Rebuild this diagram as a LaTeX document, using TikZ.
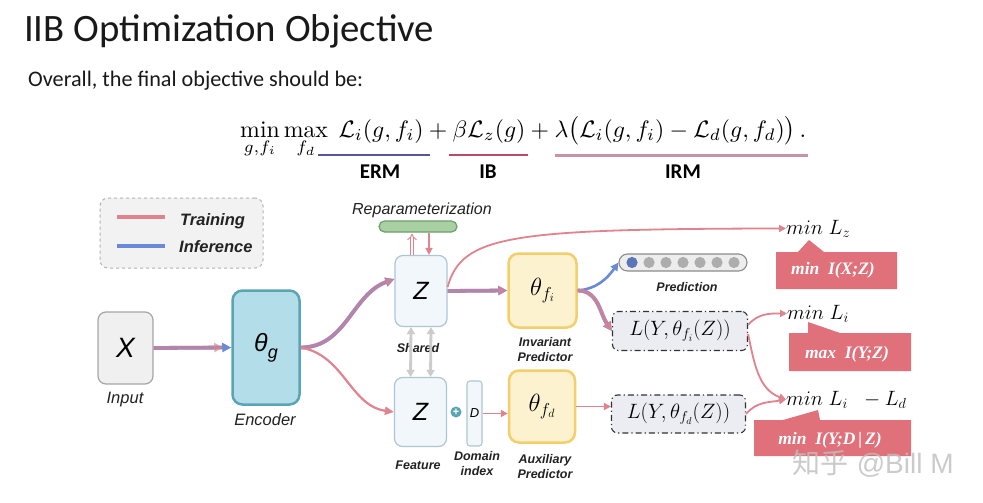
\documentclass[tikz,border=0pt]{standalone}
\usepackage{fontspec}
\usepackage{graphicx}
\usetikzlibrary{arrows.meta,calc}
\newfontfamily\calibri{Carlito}
\newfontfamily\arial{Liberation Sans}
\newfontfamily\tnr{Liberation Serif}
\newfontfamily\cjk{Noto Sans CJK SC}
\definecolor{trpink}{HTML}{E0838F}
\definecolor{infblue}{HTML}{6A8AD8}
\definecolor{ermc}{HTML}{56579A}
\definecolor{ibc}{HTML}{C04A66}
\definecolor{irmc}{HTML}{C892A8}
\definecolor{redbox}{HTML}{E0707A}
\definecolor{zfill}{HTML}{F2F7FB}
\definecolor{zdraw}{HTML}{AEC6D2}
\definecolor{encfill}{HTML}{B3DDE8}
\definecolor{encdraw}{HTML}{5AA5B5}
\definecolor{prfill}{HTML}{FDF2CF}
\definecolor{prdraw}{HTML}{F2CF6A}
\definecolor{repfill}{HTML}{A9D0A3}
\definecolor{repdraw}{HTML}{6B9F6B}
\definecolor{lfill}{HTML}{ECECF3}
\definecolor{txt}{HTML}{222222}
\begin{document}
\begin{tikzpicture}[x=1pt,y=1pt,
  box/.style={draw, inner sep=0pt, anchor=center},
  zbox/.style={box, draw=zdraw, fill=zfill, line width=1.2pt, rounded corners=8pt, minimum width=52pt, minimum height=71pt, font=\fontsize{25}{25}\arial\itshape},
  predbox/.style={box, draw=prdraw, fill=prfill, line width=2.5pt, rounded corners=10pt, minimum width=66pt, minimum height=72pt, font=\fontsize{26}{26}\selectfont},
  lossbox/.style={box, draw=black!80, fill=lfill, line width=1.1pt, dash pattern=on 6pt off 3pt on 1.2pt off 3pt, rounded corners=6pt, minimum width=134pt, minimum height=38pt, font=\fontsize{20}{20}\selectfont},
  lbl/.style={text=txt, font=\fontsize{16.5}{16.5}\arial\itshape, inner sep=0pt, anchor=center},
  slbl/.style={text=txt, font=\fontsize{12.5}{15}\arial\bfseries\itshape, inner sep=0pt, anchor=center, align=center},
  tip/.style={-{Triangle[length=9pt,width=9pt]}},
  stip/.style={-{Triangle[length=7pt,width=7pt]}},
  blueth/.style={draw=infblue, line width=3.8pt, tip},
  pinkth/.style={draw=trpink, line width=3.8pt, opacity=0.62, tip},
  pinkthin/.style={draw=trpink, line width=1.8pt, stip},
  mtxt/.style={inner sep=0pt, anchor=base west, font=\fontsize{20.5}{20.5}\selectfont},
  rtxt/.style={inner sep=0pt, text=white, font=\fontsize{17.5}{17.5}\tnr\bfseries\itshape},
  shared/.style={draw=black!20, line width=2.8pt, {Triangle[length=7pt,width=8pt]}-{Triangle[length=7pt,width=8pt]}}
]
\useasboundingbox (0,0) rectangle (983,-503);
\fill[white] (0,0) rectangle (983,-503);

% ---- heading ----
\node[anchor=base west, inner sep=0pt, text=black!90, font=\fontsize{38.8}{38.8}\calibri] (title) at (24,-42) {IIB Optimization Objective};
\node[anchor=base west, inner sep=0pt, text=black!90, font=\fontsize{22.2}{22.2}\calibri] (sub) at (28,-86) {Overall, the final objective should be:};
\node[anchor=base west, inner sep=0pt] (formula) at (240,-137) {\resizebox{566pt}{!}{$\displaystyle \min_{g,f_i}\max_{f_d}\;\mathcal{L}_i(g,f_i)+\beta\mathcal{L}_z(g)+\lambda\big(\mathcal{L}_i(g,f_i)-\mathcal{L}_d(g,f_d)\big)\,.$}};
\draw[ermc, line width=2.6pt] (318,-155) -- (430,-155);
\draw[ibc, line width=2.6pt] (449,-155) -- (528,-155);
\draw[irmc, line width=3pt] (555,-155) -- (808,-155);
\node[inner sep=0pt, font=\fontsize{21}{21}\calibri\bfseries] (erm) at (380,-172) {ERM};
\node[inner sep=0pt, font=\fontsize{21}{21}\calibri\bfseries] (ib) at (488,-172) {IB};
\node[inner sep=0pt, font=\fontsize{21}{21}\calibri\bfseries] (irm) at (683,-172) {IRM};

% ---- legend ----
\node[box, draw=black!30, fill=black!5, dashed, line width=1pt, rounded corners=8pt, minimum width=163pt, minimum height=70pt] (legend) at (181.5,-233) {};
\draw[trpink, line width=3.5pt] (117,-217) -- (165,-217);
\draw[infblue, line width=3.5pt] (117,-246) -- (165,-246);
\node[anchor=west, inner sep=0pt, text=txt, font=\fontsize{16.5}{16.5}\arial\bfseries\itshape] (ltr) at (180,-221) {Training};
\node[anchor=west, inner sep=0pt, text=txt, font=\fontsize{16.5}{16.5}\arial\bfseries\itshape] (linf) at (179,-247) {Inference};

% ---- nodes ----
\node[box, draw=black!35, fill=black!6, line width=1.2pt, rounded corners=8pt, minimum width=55pt, minimum height=72pt, font=\fontsize{28}{28}\arial\itshape] (X) at (125.5,-348) {X};
\node[lbl] (inlbl) at (125,-400) {Input};
\node[box, draw=encdraw, fill=encfill, line width=2.5pt, rounded corners=10pt, minimum width=67pt, minimum height=114pt] (enc) at (266,-347.5) {\fontsize{25}{25}\arial\itshape θ\raisebox{-7pt}{\fontsize{18}{18}\selectfont g}};
\node[lbl] (enclbl) at (265,-420) {Encoder};

\node[zbox] (zt) at (421,-291) {Z};
\node[zbox, minimum height=69pt] (zb) at (420.5,-412) {Z};
\node[slbl] (shlbl) at (418,-348) {Shared};
\node[slbl] (feat) at (418,-465) {Feature};

\node[box, draw=repdraw, fill=repfill, line width=1.2pt, rounded corners=5.5pt, minimum width=78pt, minimum height=11pt] (rep) at (418,-226.5) {};
\node[lbl, font=\fontsize{16}{16}\arial\itshape] (replbl) at (422,-210) {Reparameterization};

\node[circle, fill=encdraw, inner sep=0pt, minimum size=11pt, text=white, font=\fontsize{11}{11}\arial\bfseries] (plus) at (456,-412) {+};
\node[box, draw=zdraw, fill=zfill, line width=1.1pt, rounded corners=3pt, minimum width=15pt, minimum height=65pt, font=\fontsize{13}{13}\arial\itshape] (D) at (474.5,-413.5) {D};
\node[slbl] (dlbl) at (477,-464) {Domain\\index};

\node[predbox, minimum width=68pt, minimum height=74pt] (fi) at (542.5,-290.5) {$\theta_{f_i}$};
\node[slbl] (filbl) at (545,-350) {Invariant\\Predictor};
\node[predbox] (fd) at (542,-406.5) {$\theta_{f_d}$};
\node[slbl] (fdlbl) at (545,-467) {Auxiliary\\Predictor};

\node[box, draw=black!45, fill=black!7, line width=1.1pt, rounded corners=8.5pt, minimum width=128pt, minimum height=17pt] (pred) at (683,-262.5) {};
\foreach \i in {1,...,6}{\fill[black!32] (632+17*\i,-262.5) circle (5.6pt);}
\fill[infblue!85!black] (632,-262.5) circle (5.6pt);
\node[slbl] (predlbl) at (687,-287) {Prediction};

\node[lossbox, minimum width=135pt, minimum height=39pt] (lfi) at (680,-331) {$L(Y,\theta_{f_i}(Z))$};
\node[lossbox] (lfd) at (678.5,-414) {$L(Y,\theta_{f_d}(Z))$};

% ---- right column ----
\node[mtxt] (mlz) at (786,-234) {$min\;L_z$};
\node[mtxt] (mli) at (787,-319) {$min\;L_i$};
\node[mtxt] (mlid) at (786,-405) {$min\;L_i\;\;-L_d$};

\fill[redbox] (776,-252) -- (798,-252) -- (809,-240) -- (824,-252) -- (897,-252) -- (897,-289) -- (776,-289) -- cycle;
\node[rtxt] (r1) at (833,-270) {min\ \ I(X;Z)};
\fill[redbox] (789,-333) -- (808,-333) -- (808,-322) -- (840,-333) -- (911,-333) -- (911,-371) -- (789,-371) -- cycle;
\node[rtxt] (r2) at (847,-354) {max\ \ I(Y;Z)};
\fill[redbox] (754,-420) -- (783,-420) -- (818,-410) -- (820,-420) -- (911,-420) -- (911,-456) -- (754,-456) -- cycle;
\node[rtxt] (r3) at (830,-440) {min\ \ I(Y;D\,|\,Z)};

% ---- connectors ----
\draw[blueth] (X.east) -- (enc.west);
\draw[pinkth] (X.east) -- ([xshift=-8pt]enc.west);

\draw[blueth] (enc.east) to[out=0,in=200] ([yshift=12pt]zt.west);
\draw[pinkth] (enc.east) to[out=0,in=200] ([yshift=12pt]zt.west);
\draw[pinkthin, line width=2.2pt, -{Triangle[length=9pt,width=8pt]}] (enc.east) to[out=-10,in=172] (zb.west);

\draw[blueth] (zt.east) -- (fi.west);
\draw[pinkth] (zt.east) -- (fi.west);

\draw[shared] ([xshift=-10pt]zt.south) -- ([xshift=-10pt]zb.north);
\draw[shared] ([xshift=10pt]zt.south) -- ([xshift=10pt]zb.north);

\draw[trpink, line width=0.9pt, double=white, double distance=2.4pt, -{Implies[]}] ($(zt.north)+(-9,0)$) -- ($(rep.south)+(-6,-1)$);
\draw[trpink, line width=1.6pt, -{Triangle[length=7pt,width=7pt]}] ($(rep.south)+(11,0)$) -- ($(zt.north)+(8,0)$);

\draw[pinkthin] (D.east) -- (fd.west |- D.east);
\draw[pinkthin] (fd.east) -- (fd.east -| lfd.west);

\draw[draw=infblue, line width=2.6pt, -{Triangle[length=8pt,width=8pt]}] (fi.east) to[out=5,in=235] (pred.west);
\draw[blueth] (fi.east) to[out=0,in=125] (lfi.west);
\draw[pinkth, opacity=0.75] (fi.east) to[out=0,in=125] (lfi.west);

\draw[pinkthin] ([yshift=4pt]zt.east) .. controls (462,-235) and (510,-229) .. (mlz.west);
\draw[pinkthin] ([yshift=6pt]lfi.east) to[out=50,in=180] (mli.west);
\draw[pinkthin] ([yshift=-3pt]lfi.east) to[out=-78,in=160] (mlid.west);
\draw[pinkthin] (lfd.east) to[out=50,in=190] (mlid.west);

% ---- watermark ----
\node[inner sep=0pt, text=black!25, text opacity=0.8, font=\fontsize{28}{28}\selectfont] (wm) at (873,-464) {{\cjk 知乎} {\arial @Bill M}};
\end{tikzpicture}
\end{document}
